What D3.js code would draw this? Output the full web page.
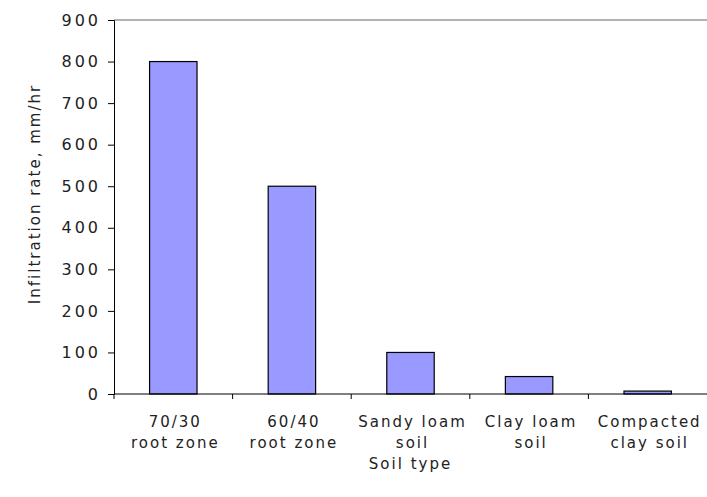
<!DOCTYPE html>
<html>
<head>
<meta charset="utf-8">
<script src="https://cdn.jsdelivr.net/npm/d3@7"></script>
<style>
  body { margin: 0; background: #fff; }
  text { font-family: "DejaVu Sans", sans-serif; font-size: 15px; letter-spacing: 2px; fill: #222; }
  .yaxis text { font-size: 16px; letter-spacing: 3px; }
</style>
</head>
<body>
<div id="chart"></div>
<script>
// soil categories, each label split on two lines like the original
const soilTypes = [
  ["70/30", "root zone"],
  ["60/40", "root zone"],
  ["Sandy loam", "soil"],
  ["Clay loam", "soil"],
  ["Compacted", "clay soil"]
];
const rates = [800, 500, 100, 42, 7];
const yTicks = [0, 100, 200, 300, 400, 500, 600, 700, 800, 900];
const yTitle = "Infiltration rate, mm/hr";
const xTitle = "Soil type";

const width = 707, height = 497;
const plotLeft = 114, plotRight = 707, plotTop = 20, plotBottom = 394;

const svg = d3.select("#chart").append("svg")
  .attr("width", width)
  .attr("height", height);

const x = d3.scaleBand()
  .domain(d3.range(soilTypes.length))
  .range([plotLeft, plotRight])
  .paddingInner(0.6)
  .paddingOuter(0.3);

const y = d3.scaleLinear()
  .domain([0, 900])
  .range([plotBottom, plotTop]);

// top border of plot area
svg.append("line")
  .attr("x1", plotLeft).attr("x2", plotRight)
  .attr("y1", y(900)).attr("y2", y(900))
  .attr("stroke", "#999").attr("stroke-width", 1.5);

// bars
svg.selectAll("rect.bar")
  .data(rates)
  .enter().append("rect")
  .attr("class", "bar")
  .attr("x", (d, i) => x(i))
  .attr("y", d => y(d))
  .attr("width", x.bandwidth())
  .attr("height", d => y(0) - y(d))
  .attr("fill", "#9999ff")
  .attr("stroke", "#000")
  .attr("stroke-width", 1.2);

// y axis
let yAxis = svg.append("g")
  .attr("class", "yaxis")
  .attr("transform", "translate(" + plotLeft + ",0)")
  .call(d3.axisLeft(y).tickValues(yTicks).tickSize(6).tickPadding(7));
yAxis.attr("font-family", null).attr("font-size", null);
yAxis.selectAll("text").attr("fill", "#222");
yAxis.select(".domain").attr("stroke", "#000");
yAxis.selectAll(".tick line").attr("stroke", "#000");

// x axis line + category boundary ticks
svg.append("line")
  .attr("x1", plotLeft).attr("x2", plotRight)
  .attr("y1", y(0)).attr("y2", y(0))
  .attr("stroke", "#000");

let bounds = d3.range(soilTypes.length).map(i => x(i) - x.step() * x.paddingOuter());
svg.selectAll("line.xtick")
  .data(bounds)
  .enter().append("line")
  .attr("class", "xtick")
  .attr("x1", d => d).attr("x2", d => d)
  .attr("y1", y(0)).attr("y2", y(0) + 5)
  .attr("stroke", "#000");

// category labels
let labels = svg.selectAll("text.cat")
  .data(soilTypes)
  .enter().append("text")
  .attr("class", "cat")
  .attr("text-anchor", "middle")
  .attr("transform", (d, i) => "translate(" + (x(i) + x.bandwidth() / 2 + 2) + "," + 427 + ")");

labels.selectAll("tspan")
  .data(d => d)
  .enter().append("tspan")
  .attr("x", 0)
  .attr("dy", (d, j) => j === 0 ? 0 : 21)
  .text(d => d);

// axis titles
svg.append("text")
  .attr("text-anchor", "middle")
  .attr("x", (plotLeft + plotRight) / 2)
  .attr("y", 469)
  .text(xTitle);

svg.append("text")
  .attr("text-anchor", "middle")
  .attr("transform", "translate(40,194) rotate(-90)")
  .text(yTitle);
</script>
</body>
</html>
